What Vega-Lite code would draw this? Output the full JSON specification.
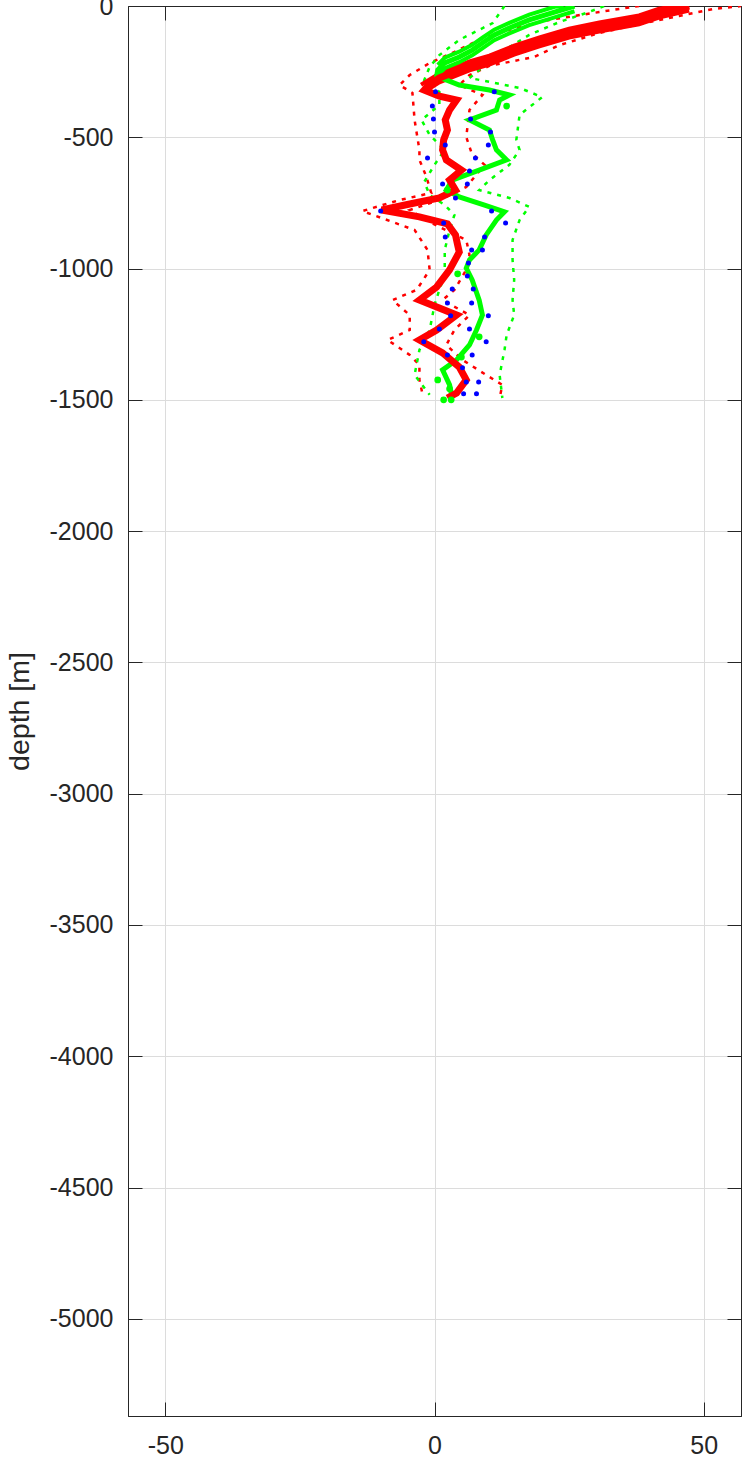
{
  "$schema": "https://vega.github.io/schema/vega-lite/v6.json",
  "width": 613,
  "height": 1410,
  "autosize": {"type": "none"},
  "padding": {"left": 128, "top": 6, "right": 2, "bottom": 42},
  "background": "white",
  "config": {
    "font": "Liberation Sans",
    "view": {"stroke": "#262626", "strokeWidth": 1},
    "axis": {
      "domainColor": "#262626", "domainWidth": 1,
      "tickColor": "#262626", "tickWidth": 1,
      "labelColor": "#262626", "labelFontSize": 25, "labelFont": "Liberation Sans",
      "gridColor": "#dcdcdc", "gridWidth": 1, "labelFlush": false
    }
  },
  "datasets": {
    "lines": [
      {"g":"A","k":"mean","v":47.3,"d":0},{"g":"A","k":"mean","v":41.7,"d":-27},{"g":"A","k":"mean","v":38.0,"d":-53},{"g":"A","k":"mean","v":30.6,"d":-80},{"g":"A","k":"mean","v":25.0,"d":-103},{"g":"A","k":"mean","v":19.5,"d":-137},{"g":"A","k":"mean","v":14.8,"d":-168},{"g":"A","k":"mean","v":10.2,"d":-206},{"g":"A","k":"mean","v":6.5,"d":-228},{"g":"A","k":"mean","v":3.7,"d":-251},{"g":"A","k":"mean","v":0.9,"d":-274},{"g":"A","k":"mean","v":-0.9,"d":-297},{"g":"A","k":"mean","v":-1.9,"d":-320},{"g":"A","k":"mean","v":0.9,"d":-343},{"g":"A","k":"mean","v":4.1,"d":-358},{"g":"A","k":"mean","v":2.8,"d":-396},{"g":"A","k":"mean","v":2.0,"d":-434},{"g":"A","k":"mean","v":2.4,"d":-472},{"g":"A","k":"mean","v":1.7,"d":-510},{"g":"A","k":"mean","v":1.5,"d":-548},{"g":"A","k":"mean","v":2.2,"d":-586},{"g":"A","k":"mean","v":5.0,"d":-625},{"g":"A","k":"mean","v":2.8,"d":-663},{"g":"A","k":"mean","v":3.9,"d":-701},{"g":"A","k":"mean","v":0.9,"d":-731},{"g":"A","k":"mean","v":-4.6,"d":-754},{"g":"A","k":"mean","v":-9.8,"d":-777},{"g":"A","k":"mean","v":-2.8,"d":-803},{"g":"A","k":"mean","v":2.4,"d":-830},{"g":"A","k":"mean","v":3.9,"d":-872},{"g":"A","k":"mean","v":4.3,"d":-910},{"g":"A","k":"mean","v":4.6,"d":-937},{"g":"A","k":"mean","v":2.8,"d":-1005},{"g":"A","k":"mean","v":0.4,"d":-1070},{"g":"A","k":"mean","v":-2.8,"d":-1120},{"g":"A","k":"mean","v":4.1,"d":-1177},{"g":"A","k":"mean","v":0.4,"d":-1234},{"g":"A","k":"mean","v":-2.8,"d":-1272},{"g":"A","k":"mean","v":1.5,"d":-1321},{"g":"A","k":"mean","v":4.6,"d":-1375},{"g":"A","k":"mean","v":5.9,"d":-1424},{"g":"A","k":"mean","v":4.1,"d":-1474},{"g":"A","k":"mean","v":2.4,"d":-1493},

      {"g":"A","k":"m1","v":45.0,"d":0},{"g":"A","k":"m1","v":41.7,"d":-10},{"g":"A","k":"m1","v":38.0,"d":-36},{"g":"A","k":"m1","v":30.6,"d":-63},{"g":"A","k":"m1","v":25.0,"d":-86},{"g":"A","k":"m1","v":19.5,"d":-120},{"g":"A","k":"m1","v":14.8,"d":-151},{"g":"A","k":"m1","v":10.2,"d":-189},{"g":"A","k":"m1","v":6.5,"d":-211},{"g":"A","k":"m1","v":3.7,"d":-234},{"g":"A","k":"m1","v":0.9,"d":-257},{"g":"A","k":"m1","v":-0.9,"d":-280},{"g":"A","k":"m1","v":-2.5,"d":-300},
      {"g":"A","k":"m2","v":47.3,"d":-17},{"g":"A","k":"m2","v":41.7,"d":-44},{"g":"A","k":"m2","v":38.0,"d":-70},{"g":"A","k":"m2","v":30.6,"d":-97},{"g":"A","k":"m2","v":25.0,"d":-120},{"g":"A","k":"m2","v":19.5,"d":-154},{"g":"A","k":"m2","v":14.8,"d":-185},{"g":"A","k":"m2","v":10.2,"d":-223},{"g":"A","k":"m2","v":6.5,"d":-245},{"g":"A","k":"m2","v":3.7,"d":-268},{"g":"A","k":"m2","v":0.9,"d":-291},{"g":"A","k":"m2","v":-0.9,"d":-314},

      {"g":"A","k":"hi","v":57.1,"d":0},{"g":"A","k":"hi","v":51.9,"d":-11},{"g":"A","k":"hi","v":45.4,"d":-38},{"g":"A","k":"hi","v":38.0,"d":-69},{"g":"A","k":"hi","v":30.6,"d":-103},{"g":"A","k":"hi","v":23.2,"d":-149},{"g":"A","k":"hi","v":18.5,"d":-194},{"g":"A","k":"hi","v":10.2,"d":-228},{"g":"A","k":"hi","v":6.5,"d":-263},{"g":"A","k":"hi","v":4.6,"d":-301},{"g":"A","k":"hi","v":8.9,"d":-339},{"g":"A","k":"hi","v":6.5,"d":-396},{"g":"A","k":"hi","v":5.9,"d":-499},{"g":"A","k":"hi","v":6.9,"d":-560},{"g":"A","k":"hi","v":9.3,"d":-605},{"g":"A","k":"hi","v":5.9,"d":-689},{"g":"A","k":"hi","v":0.9,"d":-739},{"g":"A","k":"hi","v":-4.6,"d":-777},{"g":"A","k":"hi","v":-0.9,"d":-823},{"g":"A","k":"hi","v":5.9,"d":-891},{"g":"A","k":"hi","v":6.5,"d":-948},{"g":"A","k":"hi","v":5.9,"d":-1005},{"g":"A","k":"hi","v":3.7,"d":-1081},{"g":"A","k":"hi","v":1.5,"d":-1120},{"g":"A","k":"hi","v":6.5,"d":-1177},{"g":"A","k":"hi","v":3.7,"d":-1234},{"g":"A","k":"hi","v":2.2,"d":-1291},{"g":"A","k":"hi","v":5.2,"d":-1348},{"g":"A","k":"hi","v":9.6,"d":-1405},{"g":"A","k":"hi","v":12.6,"d":-1443},{"g":"A","k":"hi","v":12.1,"d":-1493},

      {"g":"A","k":"lo","v":38.0,"d":0},{"g":"A","k":"lo","v":30.6,"d":-23},{"g":"A","k":"lo","v":21.3,"d":-53},{"g":"A","k":"lo","v":13.9,"d":-91},{"g":"A","k":"lo","v":8.3,"d":-129},{"g":"A","k":"lo","v":3.7,"d":-175},{"g":"A","k":"lo","v":-0.9,"d":-217},{"g":"A","k":"lo","v":-4.6,"d":-263},{"g":"A","k":"lo","v":-6.5,"d":-301},{"g":"A","k":"lo","v":-4.1,"d":-331},{"g":"A","k":"lo","v":-3.7,"d":-434},{"g":"A","k":"lo","v":-2.8,"d":-548},{"g":"A","k":"lo","v":-2.8,"d":-586},{"g":"A","k":"lo","v":-1.5,"d":-651},{"g":"A","k":"lo","v":-0.6,"d":-712},{"g":"A","k":"lo","v":-6.5,"d":-739},{"g":"A","k":"lo","v":-13.4,"d":-781},{"g":"A","k":"lo","v":-3.7,"d":-853},{"g":"A","k":"lo","v":-1.3,"d":-929},{"g":"A","k":"lo","v":-0.9,"d":-1005},{"g":"A","k":"lo","v":-3.3,"d":-1081},{"g":"A","k":"lo","v":-7.8,"d":-1120},{"g":"A","k":"lo","v":-4.6,"d":-1177},{"g":"A","k":"lo","v":-4.6,"d":-1234},{"g":"A","k":"lo","v":-8.7,"d":-1272},{"g":"A","k":"lo","v":-4.6,"d":-1329},{"g":"A","k":"lo","v":-2.8,"d":-1367},{"g":"A","k":"lo","v":-2.8,"d":-1424},{"g":"A","k":"lo","v":-2.2,"d":-1481},

      {"g":"B","k":"mean","v":26.0,"d":0},{"g":"B","k":"mean","v":22.3,"d":-23},{"g":"B","k":"mean","v":17.6,"d":-53},{"g":"B","k":"mean","v":13.9,"d":-84},{"g":"B","k":"mean","v":11.1,"d":-110},{"g":"B","k":"mean","v":8.9,"d":-141},{"g":"B","k":"mean","v":7.0,"d":-168},{"g":"B","k":"mean","v":4.6,"d":-194},{"g":"B","k":"mean","v":1.9,"d":-217},{"g":"B","k":"mean","v":0.6,"d":-244},{"g":"B","k":"mean","v":0.4,"d":-267},{"g":"B","k":"mean","v":4.6,"d":-301},{"g":"B","k":"mean","v":10.2,"d":-320},{"g":"B","k":"mean","v":13.9,"d":-339},{"g":"B","k":"mean","v":12.1,"d":-358},{"g":"B","k":"mean","v":11.5,"d":-396},{"g":"B","k":"mean","v":6.5,"d":-434},{"g":"B","k":"mean","v":10.2,"d":-472},{"g":"B","k":"mean","v":10.8,"d":-510},{"g":"B","k":"mean","v":11.5,"d":-548},{"g":"B","k":"mean","v":13.4,"d":-586},{"g":"B","k":"mean","v":8.3,"d":-625},{"g":"B","k":"mean","v":3.3,"d":-663},{"g":"B","k":"mean","v":2.2,"d":-701},{"g":"B","k":"mean","v":4.6,"d":-727},{"g":"B","k":"mean","v":9.3,"d":-758},{"g":"B","k":"mean","v":13.0,"d":-784},{"g":"B","k":"mean","v":11.5,"d":-815},{"g":"B","k":"mean","v":9.6,"d":-872},{"g":"B","k":"mean","v":8.3,"d":-929},{"g":"B","k":"mean","v":6.5,"d":-967},{"g":"B","k":"mean","v":5.9,"d":-998},{"g":"B","k":"mean","v":7.0,"d":-1043},{"g":"B","k":"mean","v":8.3,"d":-1120},{"g":"B","k":"mean","v":8.9,"d":-1177},{"g":"B","k":"mean","v":7.8,"d":-1234},{"g":"B","k":"mean","v":6.5,"d":-1291},{"g":"B","k":"mean","v":4.1,"d":-1348},{"g":"B","k":"mean","v":1.5,"d":-1386},{"g":"B","k":"mean","v":2.8,"d":-1443},{"g":"B","k":"mean","v":3.3,"d":-1493},

      {"g":"B","k":"m1","v":24.0,"d":0},{"g":"B","k":"m1","v":22.3,"d":-3},{"g":"B","k":"m1","v":17.6,"d":-33},{"g":"B","k":"m1","v":13.9,"d":-64},{"g":"B","k":"m1","v":11.1,"d":-90},{"g":"B","k":"m1","v":8.9,"d":-121},{"g":"B","k":"m1","v":7.0,"d":-148},{"g":"B","k":"m1","v":4.6,"d":-174},{"g":"B","k":"m1","v":1.9,"d":-197},{"g":"B","k":"m1","v":0.6,"d":-224},
      {"g":"B","k":"m2","v":26.0,"d":-20},{"g":"B","k":"m2","v":22.3,"d":-43},{"g":"B","k":"m2","v":17.6,"d":-73},{"g":"B","k":"m2","v":13.9,"d":-104},{"g":"B","k":"m2","v":11.1,"d":-130},{"g":"B","k":"m2","v":8.9,"d":-161},{"g":"B","k":"m2","v":7.0,"d":-188},{"g":"B","k":"m2","v":4.6,"d":-214},{"g":"B","k":"m2","v":1.9,"d":-237},{"g":"B","k":"m2","v":0.6,"d":-264},{"g":"B","k":"m2","v":0.4,"d":-287},

      {"g":"B","k":"hi","v":31.5,"d":0},{"g":"B","k":"hi","v":28.7,"d":-23},{"g":"B","k":"hi","v":23.2,"d":-61},{"g":"B","k":"hi","v":17.6,"d":-110},{"g":"B","k":"hi","v":13.0,"d":-168},{"g":"B","k":"hi","v":8.3,"d":-244},{"g":"B","k":"hi","v":6.5,"d":-274},{"g":"B","k":"hi","v":15.8,"d":-312},{"g":"B","k":"hi","v":20.0,"d":-347},{"g":"B","k":"hi","v":15.8,"d":-415},{"g":"B","k":"hi","v":15.2,"d":-510},{"g":"B","k":"hi","v":15.8,"d":-548},{"g":"B","k":"hi","v":13.9,"d":-605},{"g":"B","k":"hi","v":10.2,"d":-663},{"g":"B","k":"hi","v":8.3,"d":-701},{"g":"B","k":"hi","v":13.9,"d":-731},{"g":"B","k":"hi","v":17.6,"d":-765},{"g":"B","k":"hi","v":15.8,"d":-815},{"g":"B","k":"hi","v":14.5,"d":-891},{"g":"B","k":"hi","v":14.5,"d":-967},{"g":"B","k":"hi","v":14.8,"d":-1043},{"g":"B","k":"hi","v":14.5,"d":-1120},{"g":"B","k":"hi","v":14.8,"d":-1177},{"g":"B","k":"hi","v":13.4,"d":-1253},{"g":"B","k":"hi","v":13.0,"d":-1310},{"g":"B","k":"hi","v":12.1,"d":-1405},{"g":"B","k":"hi","v":12.6,"d":-1493},

      {"g":"B","k":"lo","v":13.0,"d":0},{"g":"B","k":"lo","v":10.8,"d":-65},{"g":"B","k":"lo","v":4.6,"d":-129},{"g":"B","k":"lo","v":0.9,"d":-187},{"g":"B","k":"lo","v":-0.9,"d":-232},{"g":"B","k":"lo","v":-1.9,"d":-282},{"g":"B","k":"lo","v":0.9,"d":-327},{"g":"B","k":"lo","v":0.9,"d":-377},{"g":"B","k":"lo","v":-2.4,"d":-434},{"g":"B","k":"lo","v":-0.9,"d":-491},{"g":"B","k":"lo","v":1.9,"d":-548},{"g":"B","k":"lo","v":0,"d":-605},{"g":"B","k":"lo","v":-1.9,"d":-670},{"g":"B","k":"lo","v":-0.9,"d":-720},{"g":"B","k":"lo","v":1.9,"d":-758},{"g":"B","k":"lo","v":3.7,"d":-796},{"g":"B","k":"lo","v":2.8,"d":-853},{"g":"B","k":"lo","v":1.9,"d":-929},{"g":"B","k":"lo","v":1.9,"d":-1024},{"g":"B","k":"lo","v":0.9,"d":-1081},{"g":"B","k":"lo","v":0,"d":-1139},{"g":"B","k":"lo","v":-0.9,"d":-1234},{"g":"B","k":"lo","v":-2.8,"d":-1310},{"g":"B","k":"lo","v":-3.7,"d":-1405},{"g":"B","k":"lo","v":-0.9,"d":-1481}
    ],
    "obs": [
      {"v":0.2,"d":-327},{"v":11.1,"d":-327},{"v":-0.4,"d":-381},{"v":-0.2,"d":-430},{"v":6.7,"d":-430},{"v":0,"d":-480},{"v":10.4,"d":-480},{"v":2.0,"d":-529},{"v":10.0,"d":-529},{"v":-1.3,"d":-579},{"v":7.6,"d":-579},{"v":6.5,"d":-628},{"v":1.5,"d":-678},{"v":6.1,"d":-678},{"v":3.9,"d":-731},{"v":-10.0,"d":-781},{"v":10.6,"d":-781},{"v":1.7,"d":-826},{"v":13.2,"d":-826},{"v":2.0,"d":-880},{"v":9.3,"d":-880},{"v":6.9,"d":-929},{"v":8.9,"d":-929},{"v":6.3,"d":-979},{"v":6.1,"d":-1028},{"v":3.3,"d":-1078},{"v":7.2,"d":-1078},{"v":2.4,"d":-1131},{"v":6.9,"d":-1131},{"v":3.0,"d":-1180},{"v":10.0,"d":-1180},{"v":0.9,"d":-1230},{"v":6.5,"d":-1230},{"v":-2.0,"d":-1279},{"v":9.6,"d":-1279},{"v":2.4,"d":-1329},{"v":7.0,"d":-1329},{"v":5.2,"d":-1378},{"v":5.9,"d":-1432},{"v":8.2,"d":-1432},{"v":5.4,"d":-1477},{"v":7.8,"d":-1477}
    ],
    "gdots": [
      {"v":13.4,"d":-381},{"v":2.4,"d":-701},{"v":4.3,"d":-1020},{"v":8.3,"d":-1260},{"v":5.0,"d":-1337},{"v":0.6,"d":-1424},{"v":2.8,"d":-1458},{"v":1.7,"d":-1500},{"v":3.1,"d":-1500}
    ]
  },
  "layer": [
    {
      "data": {"name": "lines"},
      "transform": [{"filter": "datum.k == 'hi' || datum.k == 'lo'"}],
      "mark": {"type": "line", "strokeWidth": 2.5, "strokeDash": [4, 6], "clip": true},
      "encoding": {
        "x": {"field": "v", "type": "quantitative",
          "scale": {"domain": [-56.93, 56.93], "nice": false, "zero": false},
          "axis": {"orient": "bottom", "values": [-50, 0, 50], "grid": true, "tickSize": -14, "labelPadding": 31, "title": null,
            "format": "d", "labelExpr": "replace(datum.label, '\u2212', '-')"}},
        "y": {"field": "d", "type": "quantitative",
          "scale": {"domain": [-5370, 0], "nice": false, "zero": false},
          "axis": {"orient": "left", "values": [-5000, -4500, -4000, -3500, -3000, -2500, -2000, -1500, -1000, -500, 0],
            "grid": true, "tickSize": -14, "labelPadding": 29,
            "format": "d", "labelExpr": "replace(datum.label, '\u2212', '-')",
            "title": "depth [m]", "titleFontSize": 28.5, "titleFontWeight": "normal", "titleColor": "#262626",
            "titleFont": "Liberation Sans", "titleX": -109, "titleY": 705, "titleBaseline": "middle"}},
        "color": {"field": "g", "type": "nominal", "scale": {"domain": ["A", "B"], "range": ["#ff0000", "#00ff00"]}, "legend": null},
        "detail": {"field": "k"},
        "order": {"field": "d", "sort": "descending"}
      }
    },
    {
      "data": {"name": "lines"},
      "transform": [{"filter": "datum.k == 'm1' || datum.k == 'm2'"}],
      "mark": {"type": "line", "strokeWidth": 4, "clip": true},
      "encoding": {
        "x": {"field": "v", "type": "quantitative", "axis": null},
        "y": {"field": "d", "type": "quantitative", "axis": null},
        "color": {"field": "g", "type": "nominal", "legend": null},
        "detail": {"field": "k"},
        "order": {"field": "d", "sort": "descending"}
      }
    },
    {
      "data": {"name": "lines"},
      "transform": [{"filter": "datum.k == 'mean' && datum.g == 'B'"}],
      "mark": {"type": "line", "strokeWidth": 5, "clip": true},
      "encoding": {
        "x": {"field": "v", "type": "quantitative", "axis": null},
        "y": {"field": "d", "type": "quantitative", "axis": null},
        "color": {"field": "g", "type": "nominal", "legend": null},
        "order": {"field": "d", "sort": "descending"}
      }
    },
    {
      "data": {"name": "lines"},
      "transform": [{"filter": "datum.k == 'mean' && datum.g == 'A'"}],
      "mark": {"type": "line", "strokeWidth": 7, "clip": true},
      "encoding": {
        "x": {"field": "v", "type": "quantitative", "axis": null},
        "y": {"field": "d", "type": "quantitative", "axis": null},
        "color": {"field": "g", "type": "nominal", "legend": null},
        "order": {"field": "d", "sort": "descending"}
      }
    },
    {
      "mark": {"type": "rule", "color": "black", "strokeWidth": 1.3},
      "encoding": {
        "x": {"datum": 0, "type": "quantitative", "axis": null}
      }
    },
    {
      "data": {"name": "gdots"},
      "mark": {"type": "point", "filled": true, "color": "#00ff00", "size": 45, "opacity": 1},
      "encoding": {
        "x": {"field": "v", "type": "quantitative", "axis": null},
        "y": {"field": "d", "type": "quantitative", "axis": null}
      }
    },
    {
      "data": {"name": "obs"},
      "mark": {"type": "point", "filled": true, "color": "#0000ff", "size": 25, "opacity": 1},
      "encoding": {
        "x": {"field": "v", "type": "quantitative",
          "axis": {"orient": "top", "values": [-50, 0, 50], "grid": false, "labels": false, "tickSize": -14, "title": null}},
        "y": {"field": "d", "type": "quantitative",
          "axis": {"orient": "right", "values": [-5000, -4500, -4000, -3500, -3000, -2500, -2000, -1500, -1000, -500, 0], "grid": false, "labels": false, "tickSize": -14, "title": null}}
      }
    }
  ],
  "resolve": {"axis": {"x": "independent", "y": "independent"}}
}
